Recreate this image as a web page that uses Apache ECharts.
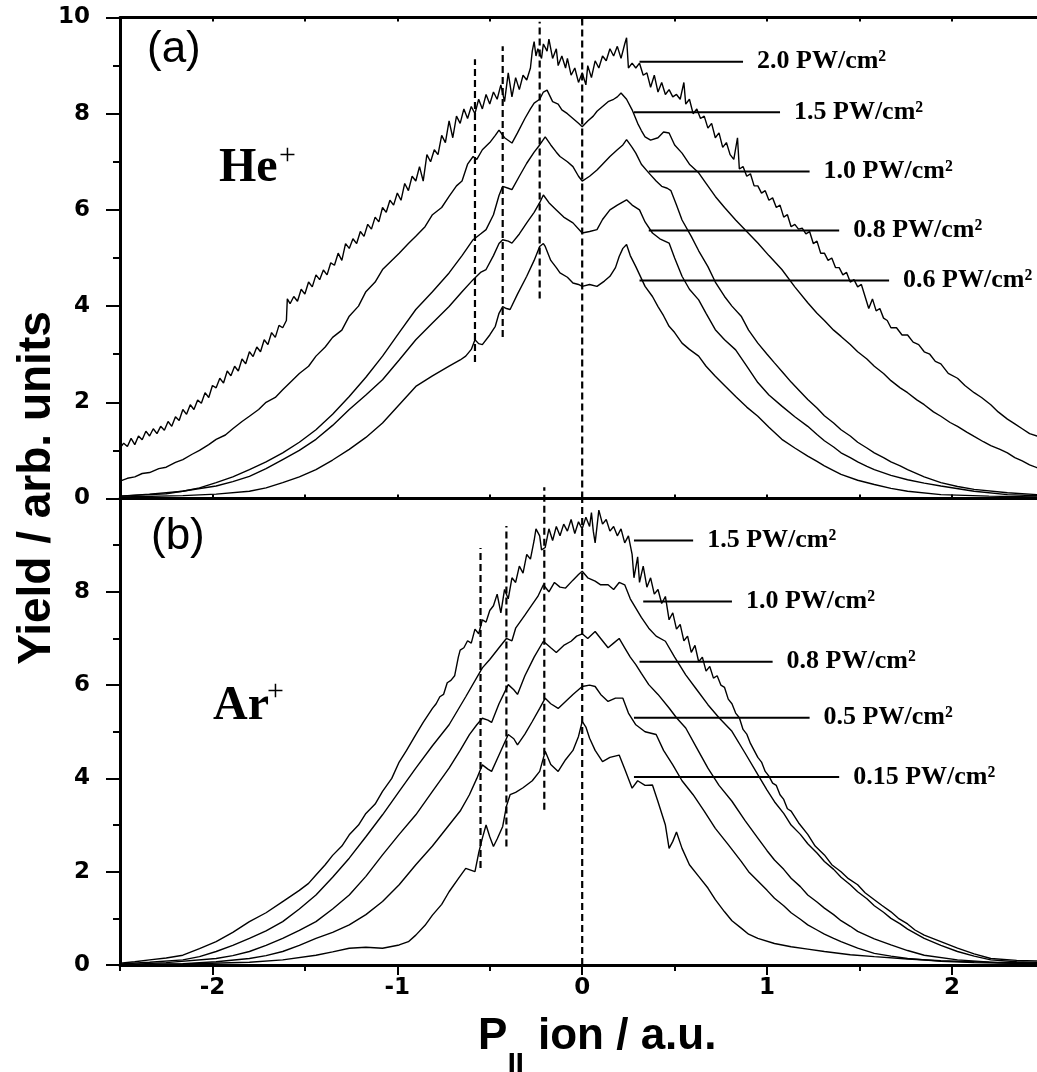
<!DOCTYPE html>
<html>
<head>
<meta charset="utf-8">
<script src="https://cdn.jsdelivr.net/npm/echarts@6/dist/echarts.min.js"></script>
<style>
html, body { margin: 0; padding: 0; background: #fff; }
#chart { width: 1037px; height: 1072px; }
</style>
</head>
<body>
<div id="chart"></div>
<script>
// (a) He+ : [P|| (a.u.), yield]
var he20 = [[-2.50,1.05],[-2.48,1.15],[-2.46,1.08],[-2.44,1.25],[-2.42,1.12],[-2.40,1.3],[-2.38,1.22],[-2.36,1.4],[-2.34,1.3],[-2.32,1.45],[-2.30,1.35],[-2.28,1.5],[-2.26,1.42],[-2.24,1.6],[-2.22,1.5],[-2.20,1.7],[-2.18,1.62],[-2.16,1.85],[-2.14,1.75],[-2.12,1.95],[-2.10,1.85],[-2.08,2.05],[-2.06,1.98],[-2.04,2.2],[-2.02,2.1],[-2.00,2.35],[-1.98,2.3],[-1.96,2.5],[-1.94,2.4],[-1.92,2.65],[-1.90,2.55],[-1.88,2.75],[-1.86,2.65],[-1.84,2.9],[-1.82,2.8],[-1.80,3.05],[-1.78,2.95],[-1.76,3.15],[-1.74,3.05],[-1.72,3.3],[-1.70,3.2],[-1.68,3.45],[-1.66,3.35],[-1.64,3.6],[-1.62,3.55],[-1.60,3.7],[-1.595,4.15],[-1.58,4.05],[-1.56,4.2],[-1.54,4.1],[-1.52,4.35],[-1.50,4.25],[-1.48,4.5],[-1.46,4.4],[-1.44,4.65],[-1.42,4.55],[-1.40,4.75],[-1.38,4.65],[-1.36,4.9],[-1.34,4.85],[-1.32,5.1],[-1.30,4.95],[-1.28,5.3],[-1.26,5.2],[-1.24,5.4],[-1.22,5.3],[-1.20,5.55],[-1.18,5.45],[-1.16,5.7],[-1.14,5.6],[-1.12,5.85],[-1.10,5.75],[-1.08,6.05],[-1.06,5.95],[-1.04,6.2],[-1.02,6.1],[-1.00,6.35],[-0.98,6.2],[-0.96,6.55],[-0.94,6.4],[-0.92,6.7],[-0.90,6.6],[-0.88,6.9],[-0.86,6.6],[-0.84,7.15],[-0.82,7.0],[-0.80,7.25],[-0.78,7.15],[-0.76,7.55],[-0.74,7.4],[-0.72,7.85],[-0.70,7.5],[-0.68,7.95],[-0.66,7.8],[-0.64,8.1],[-0.62,7.9],[-0.60,8.15],[-0.58,8.0],[-0.56,8.3],[-0.54,8.1],[-0.52,8.4],[-0.50,8.2],[-0.48,8.45],[-0.46,8.3],[-0.44,8.6],[-0.42,8.25],[-0.40,8.85],[-0.38,8.35],[-0.36,8.75],[-0.34,8.5],[-0.32,8.8],[-0.30,8.7],[-0.28,8.95],[-0.27,9.3],[-0.26,9.5],[-0.25,9.2],[-0.24,9.35],[-0.22,9.15],[-0.21,9.45],[-0.19,9.3],[-0.18,9.55],[-0.16,9.15],[-0.14,9.35],[-0.13,9.0],[-0.11,9.2],[-0.09,8.95],[-0.08,9.15],[-0.06,8.8],[-0.04,8.95],[-0.02,8.65],[0.00,8.85],[0.02,8.6],[0.03,9.0],[0.05,8.75],[0.07,9.1],[0.09,8.95],[0.11,9.2],[0.13,9.1],[0.15,9.35],[0.17,9.2],[0.19,9.4],[0.21,9.15],[0.23,9.45],[0.24,9.58],[0.25,8.95],[0.27,9.05],[0.29,8.95],[0.31,9.05],[0.33,8.8],[0.35,8.85],[0.37,8.55],[0.39,8.8],[0.41,8.45],[0.43,8.65],[0.45,8.4],[0.47,8.5],[0.49,8.35],[0.51,8.4],[0.53,8.3],[0.55,8.65],[0.56,8.2],[0.58,8.3],[0.60,8.0],[0.62,8.1],[0.64,7.9],[0.66,7.95],[0.68,7.7],[0.70,7.8],[0.72,7.5],[0.74,7.6],[0.76,7.3],[0.78,7.4],[0.80,7.15],[0.82,7.05],[0.84,7.5],[0.85,6.85],[0.87,6.9],[0.89,6.7],[0.91,6.75],[0.93,6.5],[0.95,6.5],[0.97,6.35],[0.99,6.4],[1.01,6.2],[1.03,6.25],[1.05,6.05],[1.07,6.1],[1.09,5.85],[1.11,5.9],[1.13,5.65],[1.15,5.7],[1.17,5.6],[1.19,5.62],[1.21,5.5],[1.23,5.55],[1.25,5.3],[1.27,5.35],[1.29,5.1],[1.31,5.1],[1.33,4.95],[1.35,5.0],[1.37,4.8],[1.39,4.8],[1.41,4.65],[1.43,4.7],[1.45,4.5],[1.47,4.55],[1.49,4.4],[1.51,4.45],[1.53,4.2],[1.55,3.95],[1.57,4.15],[1.59,3.9],[1.61,3.95],[1.63,3.75],[1.65,3.7],[1.67,3.55],[1.70,3.55],[1.73,3.4],[1.76,3.4],[1.79,3.25],[1.82,3.2],[1.85,3.05],[1.88,3.0],[1.91,2.85],[1.94,2.8],[1.98,2.6],[2.03,2.5],[2.07,2.35],[2.12,2.2],[2.16,2.1],[2.21,1.95],[2.25,1.8],[2.30,1.65],[2.34,1.55],[2.38,1.45],[2.42,1.35],[2.46,1.3],[2.50,1.25]];
var he15 = [[-2.50,0.36],[-2.46,0.42],[-2.42,0.45],[-2.38,0.52],[-2.34,0.54],[-2.29,0.62],[-2.25,0.65],[-2.20,0.75],[-2.16,0.81],[-2.11,0.92],[-2.07,1.0],[-2.02,1.12],[-1.98,1.23],[-1.93,1.32],[-1.89,1.45],[-1.84,1.6],[-1.80,1.71],[-1.75,1.85],[-1.71,2.0],[-1.66,2.1],[-1.62,2.26],[-1.57,2.45],[-1.53,2.6],[-1.48,2.75],[-1.44,2.96],[-1.39,3.15],[-1.35,3.35],[-1.30,3.5],[-1.26,3.79],[-1.21,4.0],[-1.17,4.3],[-1.12,4.5],[-1.08,4.76],[-1.03,4.95],[-0.99,5.1],[-0.94,5.3],[-0.90,5.45],[-0.85,5.65],[-0.81,5.9],[-0.76,6.05],[-0.72,6.28],[-0.68,6.5],[-0.65,6.6],[-0.62,6.95],[-0.59,7.11],[-0.57,7.05],[-0.54,7.25],[-0.50,7.4],[-0.47,7.55],[-0.45,7.66],[-0.42,7.5],[-0.38,7.39],[-0.35,7.6],[-0.31,7.9],[-0.28,8.1],[-0.26,8.22],[-0.23,8.3],[-0.21,8.45],[-0.19,8.49],[-0.16,8.25],[-0.13,8.2],[-0.11,8.08],[-0.08,8.0],[-0.05,7.9],[-0.02,7.8],[0.00,7.73],[0.03,7.85],[0.06,7.95],[0.08,8.05],[0.11,8.15],[0.14,8.25],[0.17,8.3],[0.19,8.35],[0.21,8.43],[0.24,8.3],[0.27,8.08],[0.30,7.8],[0.32,7.65],[0.34,7.52],[0.37,7.45],[0.41,7.5],[0.44,7.62],[0.47,7.60],[0.50,7.35],[0.54,7.18],[0.58,6.95],[0.63,6.77],[0.67,6.55],[0.72,6.28],[0.77,6.05],[0.83,5.79],[0.89,5.55],[0.95,5.31],[1.01,5.05],[1.08,4.76],[1.15,4.4],[1.22,4.07],[1.27,3.85],[1.31,3.7],[1.36,3.5],[1.40,3.37],[1.45,3.2],[1.49,3.05],[1.54,2.9],[1.58,2.75],[1.63,2.6],[1.67,2.45],[1.72,2.3],[1.76,2.20],[1.81,2.05],[1.85,1.95],[1.90,1.8],[1.94,1.71],[1.99,1.58],[2.03,1.5],[2.08,1.38],[2.12,1.29],[2.17,1.18],[2.21,1.1],[2.26,1.02],[2.30,0.95],[2.34,0.85],[2.38,0.78],[2.42,0.7],[2.46,0.64],[2.50,0.6]];
var he10 = [[-2.50,0.05],[-2.34,0.09],[-2.16,0.15],[-2.07,0.22],[-1.98,0.33],[-1.89,0.45],[-1.80,0.60],[-1.71,0.76],[-1.62,0.95],[-1.53,1.17],[-1.44,1.43],[-1.35,1.75],[-1.26,2.12],[-1.17,2.52],[-1.08,2.96],[-0.99,3.45],[-0.90,3.93],[-0.81,4.3],[-0.72,4.69],[-0.65,5.05],[-0.59,5.38],[-0.55,5.5],[-0.52,5.59],[-0.48,5.9],[-0.45,6.3],[-0.43,6.49],[-0.40,6.45],[-0.38,6.42],[-0.34,6.7],[-0.30,6.97],[-0.26,7.2],[-0.23,7.35],[-0.20,7.52],[-0.17,7.35],[-0.14,7.2],[-0.12,7.11],[-0.08,7.0],[-0.05,6.90],[-0.02,6.7],[0.00,6.6],[0.04,6.7],[0.08,6.83],[0.11,6.95],[0.15,7.11],[0.19,7.25],[0.22,7.35],[0.24,7.46],[0.27,7.3],[0.29,7.18],[0.32,6.95],[0.36,6.77],[0.40,6.6],[0.43,6.49],[0.46,6.45],[0.48,6.4],[0.51,6.1],[0.54,5.79],[0.59,5.45],[0.63,5.15],[0.68,4.82],[0.72,4.5],[0.77,4.20],[0.81,4.0],[0.86,3.79],[0.90,3.5],[0.95,3.23],[1.00,3.0],[1.04,2.82],[1.09,2.6],[1.13,2.42],[1.18,2.22],[1.22,2.06],[1.27,1.88],[1.31,1.72],[1.36,1.57],[1.40,1.43],[1.45,1.3],[1.49,1.17],[1.54,1.05],[1.58,0.95],[1.63,0.85],[1.67,0.76],[1.72,0.68],[1.76,0.60],[1.85,0.45],[1.94,0.33],[2.03,0.25],[2.12,0.19],[2.30,0.12],[2.50,0.07]];
var he08 = [[-2.50,0.05],[-2.25,0.1],[-1.98,0.26],[-1.89,0.35],[-1.80,0.46],[-1.71,0.62],[-1.62,0.81],[-1.53,1.0],[-1.44,1.23],[-1.35,1.52],[-1.26,1.85],[-1.17,2.15],[-1.08,2.47],[-0.99,2.88],[-0.90,3.30],[-0.81,3.65],[-0.72,3.99],[-0.65,4.3],[-0.59,4.55],[-0.55,4.7],[-0.52,4.76],[-0.48,5.05],[-0.45,5.3],[-0.43,5.38],[-0.40,5.35],[-0.38,5.31],[-0.34,5.5],[-0.30,5.73],[-0.26,5.95],[-0.23,6.15],[-0.21,6.31],[-0.18,6.15],[-0.14,6.00],[-0.10,5.85],[-0.05,5.73],[0.00,5.52],[0.04,5.55],[0.08,5.59],[0.11,5.8],[0.15,6.00],[0.19,6.1],[0.24,6.21],[0.27,6.1],[0.31,6.00],[0.34,5.75],[0.38,5.52],[0.42,5.4],[0.47,5.31],[0.50,5.0],[0.54,4.62],[0.58,4.35],[0.63,4.13],[0.67,3.85],[0.72,3.51],[0.77,3.3],[0.83,3.09],[0.89,2.75],[0.95,2.41],[1.01,2.15],[1.08,1.92],[1.15,1.7],[1.22,1.50],[1.27,1.33],[1.31,1.2],[1.36,1.07],[1.40,0.95],[1.45,0.85],[1.49,0.76],[1.54,0.67],[1.58,0.60],[1.67,0.48],[1.76,0.39],[1.85,0.32],[1.94,0.26],[2.12,0.15],[2.30,0.08],[2.50,0.05]];
var he06 = [[-2.50,0.03],[-2.16,0.06],[-1.98,0.09],[-1.80,0.15],[-1.71,0.22],[-1.62,0.33],[-1.53,0.45],[-1.44,0.60],[-1.35,0.8],[-1.26,1.02],[-1.17,1.27],[-1.08,1.57],[-0.99,1.95],[-0.90,2.33],[-0.81,2.55],[-0.72,2.75],[-0.66,2.88],[-0.63,2.96],[-0.60,3.1],[-0.58,3.30],[-0.56,3.22],[-0.54,3.20],[-0.50,3.4],[-0.47,3.58],[-0.45,3.85],[-0.43,3.99],[-0.41,3.95],[-0.39,3.93],[-0.35,4.25],[-0.30,4.62],[-0.26,4.95],[-0.23,5.24],[-0.21,5.3],[-0.20,5.24],[-0.17,4.95],[-0.14,4.8],[-0.12,4.69],[-0.08,4.6],[-0.05,4.48],[-0.02,4.45],[0.00,4.41],[0.04,4.45],[0.08,4.41],[0.12,4.52],[0.15,4.62],[0.18,4.8],[0.20,5.03],[0.22,5.2],[0.24,5.28],[0.26,5.05],[0.29,4.82],[0.34,4.41],[0.38,4.2],[0.41,3.99],[0.44,3.8],[0.47,3.58],[0.50,3.45],[0.54,3.23],[0.58,3.1],[0.63,2.96],[0.67,2.75],[0.72,2.54],[0.77,2.35],[0.83,2.12],[0.89,1.9],[0.95,1.71],[1.01,1.48],[1.08,1.23],[1.15,1.05],[1.22,0.88],[1.27,0.77],[1.31,0.68],[1.36,0.58],[1.40,0.50],[1.49,0.38],[1.58,0.29],[1.67,0.21],[1.76,0.15],[1.94,0.08],[2.20,0.05],[2.50,0.03]];

// (b) Ar+ : [P|| (a.u.), yield]
var ar15 = [[-2.50,0.04],[-2.42,0.07],[-2.34,0.11],[-2.25,0.15],[-2.16,0.21],[-2.07,0.35],[-1.98,0.50],[-1.89,0.7],[-1.80,0.93],[-1.71,1.12],[-1.62,1.36],[-1.53,1.6],[-1.48,1.75],[-1.44,1.93],[-1.39,2.15],[-1.35,2.35],[-1.30,2.55],[-1.26,2.79],[-1.21,3.0],[-1.17,3.25],[-1.12,3.45],[-1.08,3.72],[-1.03,4.0],[-0.99,4.35],[-0.95,4.6],[-0.90,4.94],[-0.86,5.2],[-0.81,5.5],[-0.79,5.6],[-0.77,5.75],[-0.75,5.8],[-0.73,6.05],[-0.71,6.1],[-0.69,6.2],[-0.67,6.6],[-0.66,6.75],[-0.64,6.8],[-0.62,6.95],[-0.60,6.9],[-0.58,7.2],[-0.56,7.1],[-0.54,7.4],[-0.52,7.35],[-0.50,7.6],[-0.48,7.7],[-0.46,7.95],[-0.44,7.55],[-0.42,8.05],[-0.40,7.85],[-0.38,8.3],[-0.36,8.2],[-0.34,8.55],[-0.32,8.4],[-0.30,8.8],[-0.28,8.7],[-0.26,9.1],[-0.25,9.35],[-0.23,9.2],[-0.22,8.9],[-0.20,8.95],[-0.18,9.35],[-0.16,9.1],[-0.14,9.4],[-0.12,9.2],[-0.10,9.45],[-0.08,9.3],[-0.06,9.55],[-0.04,9.25],[-0.02,9.5],[0.00,9.35],[0.02,9.6],[0.04,9.4],[0.05,9.7],[0.06,9.3],[0.07,9.05],[0.09,9.75],[0.11,9.45],[0.13,9.55],[0.15,9.3],[0.17,9.4],[0.19,9.2],[0.21,9.35],[0.23,9.05],[0.25,9.2],[0.27,8.8],[0.28,8.3],[0.30,8.75],[0.31,8.2],[0.33,8.55],[0.35,8.1],[0.37,8.3],[0.39,7.95],[0.41,8.05],[0.43,7.75],[0.45,7.9],[0.47,7.4],[0.49,7.55],[0.51,7.2],[0.53,7.3],[0.55,6.95],[0.57,7.05],[0.59,6.7],[0.61,6.85],[0.63,6.5],[0.65,6.6],[0.67,6.3],[0.69,6.4],[0.71,6.15],[0.73,6.2],[0.75,6.0],[0.77,5.95],[0.79,5.7],[0.81,5.6],[0.83,5.4],[0.85,5.3],[0.87,5.05],[0.89,4.95],[0.91,4.75],[0.93,4.6],[0.95,4.45],[0.97,4.35],[0.99,4.15],[1.01,4.05],[1.03,3.9],[1.05,3.85],[1.07,3.65],[1.09,3.55],[1.11,3.35],[1.13,3.3],[1.17,3.05],[1.22,2.8],[1.26,2.55],[1.31,2.36],[1.35,2.15],[1.40,2.0],[1.44,1.85],[1.49,1.72],[1.53,1.55],[1.58,1.4],[1.62,1.28],[1.67,1.14],[1.71,1.0],[1.76,0.88],[1.80,0.75],[1.85,0.64],[1.94,0.5],[2.03,0.36],[2.12,0.24],[2.21,0.14],[2.35,0.1],[2.50,0.08]];
var ar10 = [[-2.50,0.02],[-2.34,0.06],[-2.16,0.11],[-2.07,0.18],[-1.98,0.29],[-1.89,0.42],[-1.80,0.57],[-1.71,0.73],[-1.62,0.93],[-1.53,1.2],[-1.44,1.50],[-1.35,1.88],[-1.26,2.29],[-1.17,2.75],[-1.08,3.22],[-0.99,3.72],[-0.90,4.22],[-0.81,4.7],[-0.72,5.15],[-0.63,5.75],[-0.54,6.37],[-0.50,6.55],[-0.45,6.80],[-0.41,7.0],[-0.38,6.95],[-0.36,7.22],[-0.31,7.5],[-0.27,7.73],[-0.24,7.9],[-0.21,8.15],[-0.18,8.0],[-0.15,8.2],[-0.12,8.1],[-0.09,8.08],[-0.05,8.25],[-0.02,8.37],[0.00,8.44],[0.03,8.3],[0.07,8.23],[0.10,8.15],[0.14,8.15],[0.17,8.05],[0.20,8.2],[0.23,8.15],[0.26,7.85],[0.29,7.65],[0.32,7.45],[0.36,7.22],[0.40,7.05],[0.45,6.94],[0.50,6.6],[0.56,6.22],[0.62,5.9],[0.68,5.58],[0.74,5.3],[0.81,5.01],[0.88,4.55],[0.95,4.08],[1.00,3.75],[1.04,3.5],[1.09,3.25],[1.13,3.00],[1.18,2.8],[1.22,2.6],[1.27,2.4],[1.31,2.22],[1.36,2.05],[1.40,1.88],[1.45,1.72],[1.49,1.57],[1.54,1.42],[1.58,1.27],[1.63,1.13],[1.67,1.00],[1.72,0.88],[1.76,0.77],[1.85,0.57],[1.94,0.42],[2.03,0.29],[2.12,0.19],[2.21,0.11],[2.35,0.07],[2.50,0.05]];
var ar08 = [[-2.50,0.0],[-2.25,0.05],[-1.98,0.14],[-1.89,0.2],[-1.80,0.29],[-1.71,0.42],[-1.62,0.57],[-1.53,0.74],[-1.44,0.93],[-1.35,1.2],[-1.26,1.50],[-1.17,1.9],[-1.08,2.36],[-0.99,2.8],[-0.90,3.22],[-0.81,3.72],[-0.72,4.22],[-0.66,4.6],[-0.61,4.94],[-0.57,5.15],[-0.54,5.29],[-0.51,5.25],[-0.49,5.2],[-0.45,5.6],[-0.40,6.01],[-0.37,5.9],[-0.35,5.8],[-0.31,6.2],[-0.26,6.6],[-0.21,6.94],[-0.17,6.8],[-0.14,6.7],[-0.10,6.85],[-0.06,6.94],[-0.03,7.05],[0.00,7.1],[0.03,7.0],[0.07,7.15],[0.10,7.0],[0.14,6.80],[0.17,6.9],[0.20,7.0],[0.23,6.8],[0.26,6.6],[0.29,6.44],[0.32,6.25],[0.36,6.01],[0.41,5.8],[0.47,5.51],[0.51,5.3],[0.56,5.08],[0.62,4.65],[0.68,4.22],[0.74,3.85],[0.81,3.51],[0.88,3.1],[0.95,2.72],[1.00,2.45],[1.04,2.25],[1.09,2.05],[1.13,1.86],[1.18,1.68],[1.22,1.5],[1.27,1.35],[1.31,1.22],[1.36,1.08],[1.40,0.95],[1.45,0.83],[1.49,0.72],[1.58,0.56],[1.67,0.43],[1.76,0.31],[1.85,0.21],[2.03,0.11],[2.25,0.05],[2.50,0.03]];
var ar05 = [[-2.50,0.0],[-2.16,0.03],[-1.98,0.07],[-1.80,0.14],[-1.71,0.2],[-1.62,0.29],[-1.53,0.42],[-1.44,0.57],[-1.35,0.7],[-1.26,0.86],[-1.17,1.08],[-1.08,1.36],[-0.99,1.72],[-0.90,2.15],[-0.81,2.55],[-0.72,3.00],[-0.66,3.3],[-0.61,3.65],[-0.57,4.0],[-0.54,4.29],[-0.51,4.2],[-0.49,4.15],[-0.45,4.5],[-0.40,4.94],[-0.37,4.85],[-0.35,4.72],[-0.31,4.95],[-0.27,5.22],[-0.23,5.5],[-0.20,5.72],[-0.17,5.6],[-0.13,5.5],[-0.09,5.65],[-0.05,5.8],[0.00,5.97],[0.04,6.0],[0.07,5.97],[0.10,5.8],[0.14,5.65],[0.18,5.72],[0.22,5.72],[0.25,5.4],[0.29,5.15],[0.34,5.0],[0.40,4.94],[0.44,4.6],[0.49,4.29],[0.54,3.95],[0.60,3.65],[0.66,3.3],[0.72,2.93],[0.79,2.58],[0.86,2.22],[0.90,2.0],[0.95,1.8],[1.00,1.6],[1.04,1.43],[1.09,1.27],[1.13,1.12],[1.18,0.98],[1.22,0.86],[1.27,0.75],[1.31,0.66],[1.36,0.57],[1.40,0.50],[1.49,0.36],[1.58,0.25],[1.67,0.19],[1.76,0.14],[1.94,0.08],[2.12,0.05],[2.50,0.02]];
var ar015 = [[-2.50,0.0],[-2.16,0.02],[-1.80,0.06],[-1.62,0.11],[-1.44,0.21],[-1.35,0.28],[-1.26,0.36],[-1.17,0.38],[-1.08,0.36],[-0.99,0.43],[-0.94,0.5],[-0.90,0.64],[-0.85,0.85],[-0.81,1.07],[-0.76,1.3],[-0.72,1.57],[-0.67,1.85],[-0.63,2.07],[-0.58,2.0],[-0.56,2.4],[-0.54,2.72],[-0.52,3.0],[-0.50,2.75],[-0.48,2.54],[-0.46,2.7],[-0.43,2.97],[-0.41,3.4],[-0.39,3.65],[-0.36,3.7],[-0.32,3.8],[-0.27,3.95],[-0.23,4.15],[-0.20,4.58],[-0.17,4.3],[-0.13,4.15],[-0.09,4.4],[-0.05,4.6],[-0.02,4.9],[0.00,5.22],[0.02,5.1],[0.04,4.86],[0.07,4.6],[0.11,4.36],[0.15,4.45],[0.20,4.5],[0.23,4.2],[0.27,3.79],[0.30,3.95],[0.34,3.85],[0.38,3.86],[0.41,3.5],[0.45,3.00],[0.47,2.50],[0.49,2.65],[0.51,2.85],[0.54,2.5],[0.58,2.15],[0.63,1.9],[0.68,1.65],[0.72,1.4],[0.77,1.14],[0.81,0.95],[0.86,0.79],[0.90,0.66],[0.95,0.57],[1.04,0.46],[1.13,0.39],[1.22,0.34],[1.31,0.29],[1.45,0.22],[1.58,0.18],[1.76,0.13],[1.94,0.09],[2.20,0.06],[2.50,0.04]];

// intensity labels and their leader lines (P from..to, yield)
var heNames = ['2.0 PW/cm²', '1.5 PW/cm²', '1.0 PW/cm²', '0.8 PW/cm²', '0.6 PW/cm²'];
var heLeadX = [[0.31, 0.87], [0.28, 1.07], [0.36, 1.23], [0.36, 1.39], [0.31, 1.66]];
var heLeadY = [9.08, 8.03, 6.80, 5.57, 4.53];
var arNames = ['1.5 PW/cm²', '1.0 PW/cm²', '0.8 PW/cm²', '0.5 PW/cm²', '0.15 PW/cm²'];
var arLeadX = [[0.28, 0.60], [0.33, 0.81], [0.31, 1.03], [0.28, 1.23], [0.28, 1.39]];
var arLeadY = [9.10, 7.79, 6.50, 5.30, 4.03];

// dashed markers: P position, yield from..to
var heDashX = [-0.58, -0.43, -0.23, 0];
var heDashY = [[2.84, 9.13], [3.36, 9.40], [4.16, 9.91], [0, 10]];
var arDashX = [-0.55, -0.41, -0.205, 0];
var arDashY = [[2.08, 8.94], [2.54, 9.41], [3.33, 10.24], [0, 10]];

var xMajor = [-2, -1, 0, 1, 2];
var xHalf = [-2.5, -1.5, -0.5, 0.5, 1.5];
var xAll = [-2.5, -2, -1.5, -1, -0.5, 0, 0.5, 1, 1.5, 2];

var chart = echarts.init(document.getElementById('chart'), null, { renderer: 'canvas' });

var series = [];

function addCurve(data, gi) {
    series.push({
        type: 'line', data: data, xAxisIndex: gi === 0 ? 0 : 2, yAxisIndex: gi,
        showSymbol: false, silent: true, animation: false, z: 3,
        lineStyle: { color: '#000', width: 1.4 }
    });
}
function addLeader(xs, y, name, gi) {
    series.push({
        type: 'line', data: [[xs[0], y], [xs[1], y]], xAxisIndex: gi === 0 ? 0 : 2, yAxisIndex: gi,
        showSymbol: false, silent: true, animation: false, z: 4,
        lineStyle: { color: '#000', width: 2 },
        endLabel: {
            show: true, formatter: name, distance: 14, color: '#000',
            fontFamily: 'Liberation Serif', fontWeight: 'bold', fontSize: 26
        }
    });
}
function addDash(x, ys, gi) {
    series.push({
        type: 'line', data: [[x, ys[0]], [x, ys[1]]], xAxisIndex: gi === 0 ? 0 : 2, yAxisIndex: gi,
        showSymbol: false, silent: true, animation: false, clip: false, z: 2,
        lineStyle: { color: '#000', width: 2.2, type: [7, 4] }
    });
}

[he20, he15, he10, he08, he06].forEach(function (d) { addCurve(d, 0); });
[ar15, ar10, ar08, ar05, ar015].forEach(function (d) { addCurve(d, 1); });
heNames.forEach(function (n, i) { addLeader(heLeadX[i], heLeadY[i], n, 0); });
arNames.forEach(function (n, i) { addLeader(arLeadX[i], arLeadY[i], n, 1); });
heDashX.forEach(function (x, i) { addDash(x, heDashY[i], 0); });
arDashX.forEach(function (x, i) { addDash(x, arDashY[i], 1); });

var axisLineStyle = { show: true, onZero: false, lineStyle: { color: '#000', width: 3 } };
var tickLabel = { color: '#000', fontFamily: 'DejaVu Sans', fontWeight: 'bold', fontSize: 23 };
// the printed frame runs a little past the right edge of the picture
var xMin = -2.5, xMax = 2.46;

function yAxisFor(gi) {
    return {
        type: 'value', gridIndex: gi, min: 0, max: 10, interval: 2,
        axisLine: axisLineStyle,
        axisTick: { show: true, inside: false, length: 14, lineStyle: { color: '#000', width: 2 } },
        minorTick: { show: true, splitNumber: 2, length: 7, lineStyle: { color: '#000', width: 2 } },
        axisLabel: Object.assign({ margin: 30, formatter: function (v) { return (gi === 1 && v === 10) ? '' : String(v); } }, tickLabel),
        splitLine: { show: false }, minorSplitLine: { show: false }
    };
}

var option = {
    backgroundColor: '#fff',
    animation: false,
    grid: [
        { left: 120, right: 0, top: 17.5, height: 481 },
        { left: 120, right: 0, top: 498.5, height: 466.5 }
    ],
    xAxis: [
        { // top panel, shared middle line
            type: 'value', gridIndex: 0, min: xMin, max: xMax, position: 'bottom',
            axisLine: axisLineStyle,
            axisTick: { show: true, inside: true, length: 4, customValues: xAll, lineStyle: { color: '#000', width: 2 } },
            axisLabel: { show: false }, splitLine: { show: false }
        },
        { // top frame line
            type: 'value', gridIndex: 0, min: xMin, max: xMax, position: 'top',
            axisLine: axisLineStyle,
            axisTick: { show: true, inside: true, length: 4, customValues: xAll, lineStyle: { color: '#000', width: 2 } },
            axisLabel: { show: false }, splitLine: { show: false }
        },
        { // bottom panel, labelled axis
            type: 'value', gridIndex: 1, min: xMin, max: xMax, position: 'bottom',
            axisLine: axisLineStyle,
            axisTick: { show: true, inside: false, length: 10, customValues: xMajor, lineStyle: { color: '#000', width: 2 } },
            axisLabel: Object.assign({ margin: 12, customValues: xMajor }, tickLabel),
            splitLine: { show: false }
        },
        { // half-unit ticks on bottom axis
            type: 'value', gridIndex: 1, min: xMin, max: xMax, position: 'bottom',
            axisLine: { show: false, onZero: false },
            axisTick: { show: true, inside: false, length: 6, customValues: xHalf, lineStyle: { color: '#000', width: 2 } },
            axisLabel: { show: false }, splitLine: { show: false }
        }
    ],
    yAxis: [yAxisFor(0), yAxisFor(1)],
    series: series,
    graphic: [
        { type: 'text', x: 37, y: 488, rotation: Math.PI / 2,
          style: { text: 'Yield / arb. units', fill: '#000', font: 'bold 46px "Liberation Sans", Arial', align: 'center', verticalAlign: 'middle' } },
        { type: 'text', x: 478, y: 1037,
          style: { text: 'P', fill: '#000', font: 'bold 44px "Liberation Sans", Arial', align: 'left', verticalAlign: 'middle' } },
        { type: 'text', x: 507, y: 1068,
          style: { text: '|', fill: '#000', font: 'bold 34px "Liberation Sans", Arial', align: 'left', verticalAlign: 'middle' } },
        { type: 'text', x: 515, y: 1068,
          style: { text: '|', fill: '#000', font: 'bold 34px "Liberation Sans", Arial', align: 'left', verticalAlign: 'middle' } },
        { type: 'text', x: 538, y: 1037,
          style: { text: 'ion / a.u.', fill: '#000', font: 'bold 44px "Liberation Sans", Arial', align: 'left', verticalAlign: 'middle' } },
        { type: 'text', x: 147, y: 50,
          style: { text: '(a)', fill: '#000', font: '44px "Liberation Sans", Arial', align: 'left', verticalAlign: 'middle' } },
        { type: 'text', x: 151, y: 537,
          style: { text: '(b)', fill: '#000', font: '44px "Liberation Sans", Arial', align: 'left', verticalAlign: 'middle' } },
        { type: 'text', x: 219, y: 169,
          style: { text: 'He', fill: '#000', font: 'bold 48px "Liberation Serif", serif', align: 'left', verticalAlign: 'middle' } },
        { type: 'text', x: 279, y: 156,
          style: { text: '+', fill: '#000', font: '30px "Liberation Serif", serif', align: 'left', verticalAlign: 'middle' } },
        { type: 'text', x: 213, y: 707,
          style: { text: 'Ar', fill: '#000', font: 'bold 48px "Liberation Serif", serif', align: 'left', verticalAlign: 'middle' } },
        { type: 'text', x: 267, y: 692,
          style: { text: '+', fill: '#000', font: '30px "Liberation Serif", serif', align: 'left', verticalAlign: 'middle' } }
    ]
};

chart.setOption(option);
</script>
</body>
</html>
